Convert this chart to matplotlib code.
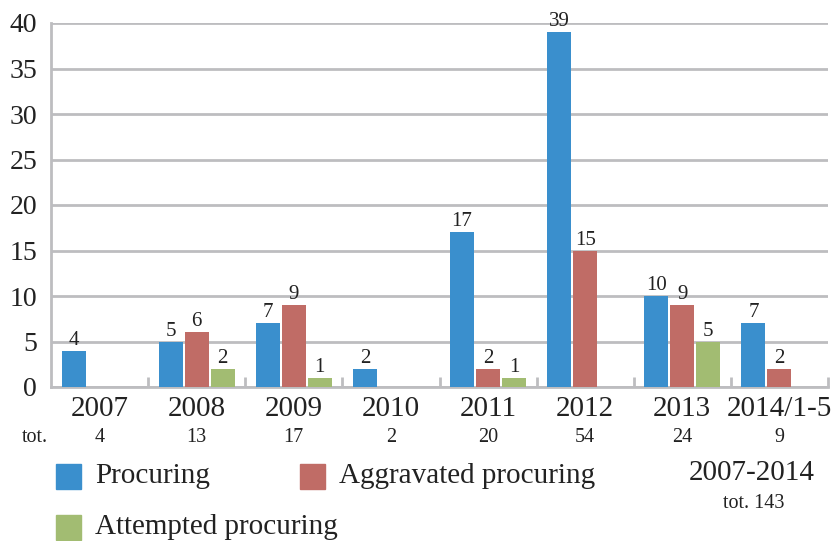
import numpy as np
import matplotlib
matplotlib.use('Agg')
import matplotlib.pyplot as plt
from matplotlib.patches import Rectangle
from matplotlib.transforms import blended_transform_factory

years = ["2007", "2008", "2009", "2010", "2011", "2012", "2013", "2014/1-5"]
procuring = [4, 5, 7, 2, 17, 39, 10, 7]
aggravated = [0, 6, 9, 0, 2, 15, 9, 2]
attempted = [0, 2, 1, 0, 1, 0, 5, 0]
totals = [4, 13, 17, 2, 20, 54, 24, 9]
grand_total = 143

series_names = ["Procuring", "Aggravated procuring", "Attempted procuring"]
colors = ['#3a8fcd', '#c06c66', '#a2bc72']
grid_col = '#bdbdc0'
txt_col = '#222222'

plt.rcParams['font.family'] = ['Liberation Serif', 'DejaVu Serif']

fig = plt.figure(figsize=(8.33, 5.41), dpi=100)
ax = fig.add_axes([51/833, 154/541, 777/833, 364/541])

x = np.arange(len(years))
slot = 0.268
width = 0.247
for i, vals in enumerate([procuring, aggravated, attempted]):
    pos = x + (i - 1) * slot
    ax.bar(pos, vals, width=width, color=colors[i], zorder=3)
    for px, v in zip(pos, vals):
        if v > 0:
            ax.text(px, v + 0.1, str(v), ha='center', va='bottom',
                    fontsize=15, color=txt_col, zorder=4)

ax.set_xlim(-0.5, len(years) - 0.5)
ax.set_ylim(0, 40)
ax.set_yticks(range(0, 41, 5))
ax.yaxis.grid(True, color=grid_col, linewidth=2, zorder=0)
ax.tick_params(axis='y', length=0, labelsize=20, pad=10, labelcolor=txt_col)

ax.set_xticks(x)
ax.set_xticklabels(years)
ax.tick_params(axis='x', which='major', length=0, labelsize=21, pad=6.5,
               labelcolor=txt_col)
ax.set_xticks(np.arange(0.5, len(years), 1.0), minor=True)
ax.tick_params(axis='x', which='minor', direction='in', length=7, width=2,
               color=grid_col)

for side in ['top', 'right']:
    ax.spines[side].set_visible(False)
for side in ['left', 'bottom']:
    ax.spines[side].set_color(grid_col)
    ax.spines[side].set_linewidth(2)

# yearly totals under the year labels
trans = blended_transform_factory(ax.transData, fig.transFigure)
tot_y = 1 - 437/541
for xi, t in zip(x, totals):
    ax.text(xi, tot_y, str(t), transform=trans, ha='center', va='center',
            fontsize=14.5, color=txt_col)
fig.text(35/833, tot_y, "tot.", ha='center', va='center', fontsize=14.5,
         color=txt_col)

# legend drawn by hand
leg_items = [(56, 476), (300, 476), (56, 527)]
for (lx, ly), name, c in zip(leg_items, series_names, colors):
    fig.patches.append(Rectangle((lx/833, 1 - (ly + 12.5)/541), 25/833, 25/541,
                                 transform=fig.transFigure, color=c))
    fig.text((lx + 39)/833, 1 - ly/541, name, ha='left', va='center',
             fontsize=21, color=txt_col)

fig.text(752/833, 1 - 473/541, "2007-2014", ha='center', va='center',
         fontsize=21, color=txt_col)
fig.text(754/833, 1 - 503/541, "tot. %d" % grand_total, ha='center',
         va='center', fontsize=14.5, color=txt_col)

fig.savefig('out.png', dpi=100)
